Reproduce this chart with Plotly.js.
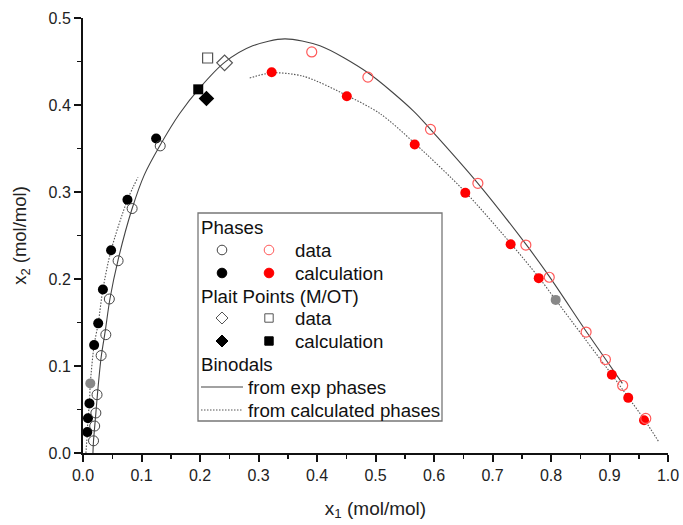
<!DOCTYPE html>
<html>
<head>
<meta charset="utf-8">
<script src="https://cdn.plot.ly/plotly-3.0.1.min.js"></script>
<style>html,body{margin:0;padding:0;background:#fff}#chart{width:683px;height:525px}</style>
</head>
<body>
<div id="chart"></div>
<script>
// ---- data ----
var expBinodalX = [0.017, 0.018, 0.022, 0.025, 0.031, 0.038, 0.046, 0.060, 0.084, 0.105, 0.132, 0.165, 0.200, 0.242, 0.290, 0.345, 0.405, 0.487, 0.565, 0.594, 0.675, 0.757, 0.797, 0.860, 0.893, 0.922];
var expBinodalY = [0.000, 0.014, 0.046, 0.070, 0.110, 0.140, 0.177, 0.222, 0.281, 0.320, 0.354, 0.390, 0.420, 0.449, 0.468, 0.476, 0.468, 0.437, 0.393, 0.372, 0.310, 0.240, 0.203, 0.140, 0.108, 0.080];

var calcBinodalLeftX = [0.005, 0.0074, 0.0085, 0.011, 0.0125, 0.019, 0.026, 0.034, 0.048, 0.076, 0.094];
var calcBinodalLeftY = [0.000, 0.024, 0.040, 0.057, 0.080, 0.124, 0.149, 0.188, 0.233, 0.291, 0.317];
var calcBinodalRightX = [0.285, 0.3225, 0.377, 0.451, 0.508, 0.567, 0.6535, 0.731, 0.779, 0.808, 0.856, 0.904, 0.932, 0.960, 0.985];
var calcBinodalRightY = [0.431, 0.437, 0.433, 0.411, 0.390, 0.356, 0.300, 0.241, 0.202, 0.176, 0.133, 0.090, 0.064, 0.038, 0.012];

var blackOpenX = [0.018, 0.020, 0.022, 0.024, 0.031, 0.039, 0.045, 0.060, 0.084, 0.132];
var blackOpenY = [0.014, 0.031, 0.046, 0.067, 0.112, 0.136, 0.177, 0.221, 0.281, 0.353];
var blackFilledX = [0.0074, 0.0085, 0.011, 0.019, 0.026, 0.034, 0.048, 0.076, 0.125];
var blackFilledY = [0.024, 0.040, 0.057, 0.124, 0.149, 0.188, 0.233, 0.291, 0.3615];
var grayX = [0.0125, 0.808];
var grayY = [0.080, 0.176];
var redOpenX = [0.391, 0.487, 0.594, 0.675, 0.757, 0.797, 0.860, 0.893, 0.9225, 0.962];
var redOpenY = [0.461, 0.432, 0.372, 0.310, 0.239, 0.202, 0.139, 0.1075, 0.0776, 0.0397];
var redFilledX = [0.3225, 0.451, 0.567, 0.6535, 0.731, 0.779, 0.904, 0.932, 0.959];
var redFilledY = [0.4377, 0.410, 0.3546, 0.299, 0.240, 0.201, 0.0899, 0.0634, 0.0377];

var plaitDataDiamondX = [0.242], plaitDataDiamondY = [0.4485];
var plaitDataSquareX = [0.213], plaitDataSquareY = [0.454];
var plaitCalcDiamondX = [0.211], plaitCalcDiamondY = [0.4075];
var plaitCalcSquareX = [0.197], plaitCalcSquareY = [0.418];

var tickVals = [0, 0.1, 0.2, 0.3, 0.4, 0.5, 0.6, 0.7, 0.8, 0.9, 1.0];
var tickText = ['0.0','0.1','0.2','0.3','0.4','0.5','0.6','0.7','0.8','0.9','1.0'];
var yTickVals = [0, 0.1, 0.2, 0.3, 0.4, 0.5];
var yTickText = ['0.0','0.1','0.2','0.3','0.4','0.5'];

var legendLabels = ['Phases', 'data', 'calculation', 'Plait Points (M/OT)', 'data', 'calculation', 'Binodals', 'from exp phases', 'from calculated phases'];

// ---- traces ----
function pts(x, y, marker) {
  return {x: x, y: y, type: 'scatter', mode: 'markers', marker: marker,
          cliponaxis: false, showlegend: false, hoverinfo: 'skip'};
}
function crv(x, y, line) {
  return {x: x, y: y, type: 'scatter', mode: 'lines', line: line,
          cliponaxis: false, showlegend: false, hoverinfo: 'skip'};
}
var traces = [
  crv(expBinodalX, expBinodalY, {color: '#444', width: 1.1, shape: 'spline', smoothing: 0.8}),
  crv(calcBinodalLeftX, calcBinodalLeftY, {color: '#555', width: 1.1, dash: '1.5px,1.5px', shape: 'spline', smoothing: 0.8}),
  crv(calcBinodalRightX, calcBinodalRightY, {color: '#555', width: 1.1, dash: '1.5px,1.5px', shape: 'spline', smoothing: 0.8}),
  pts(blackFilledX, blackFilledY, {symbol: 'circle', size: 10, color: '#000'}),
  pts(blackOpenX, blackOpenY, {symbol: 'circle-open', size: 10, color: '#444', line: {width: 1}}),
  pts(grayX, grayY, {symbol: 'circle', size: 10, color: '#888'}),
  pts(redFilledX, redFilledY, {symbol: 'circle', size: 10, color: '#ff0000'}),
  pts(redOpenX, redOpenY, {symbol: 'circle-open', size: 10, color: '#ff5a5a', line: {width: 1.2}}),
  pts(plaitDataSquareX, plaitDataSquareY, {symbol: 'square-open', size: 10, color: '#555', line: {width: 1.2}}),
  pts(plaitDataDiamondX, plaitDataDiamondY, {symbol: 'diamond-open', size: 12, color: '#555', line: {width: 1.2}}),
  pts(plaitCalcSquareX, plaitCalcSquareY, {symbol: 'square', size: 10, color: '#000'}),
  pts(plaitCalcDiamondX, plaitCalcDiamondY, {symbol: 'diamond', size: 12, color: '#000'})
];

// ---- hand-built legend (box, glyphs, text) in paper coords ----
var L = 83, T = 18, W = 585, H = 435;
var FONT = 'Liberation Sans, Arial, sans-serif';
function px(p) { return (p - L) / W; }
function py(p) { return (T + H - p) / H; }
var shapes = [];
var annotations = [];
shapes.push({type: 'rect', xref: 'paper', yref: 'paper', x0: px(198), x1: px(442), y0: py(421), y1: py(213),
             line: {color: '#777', width: 1.3}, fillcolor: '#fff', layer: 'above'});
function circ(cx, cy, r, fill, stroke) {
  shapes.push({type: 'circle', xref: 'paper', yref: 'paper', xsizemode: 'pixel', ysizemode: 'pixel',
    xanchor: px(cx), yanchor: py(cy), x0: -r, x1: r, y0: -r, y1: r,
    fillcolor: fill, line: {color: stroke, width: 1}, layer: 'above'});
}
function sq(cx, cy, r, fill, stroke) {
  shapes.push({type: 'rect', xref: 'paper', yref: 'paper', xsizemode: 'pixel', ysizemode: 'pixel',
    xanchor: px(cx), yanchor: py(cy), x0: -r, x1: r, y0: -r, y1: r,
    fillcolor: fill, line: {color: stroke, width: 1}, layer: 'above'});
}
function dia(cx, cy, r, fill, stroke) {
  shapes.push({type: 'path', xref: 'paper', yref: 'paper', xsizemode: 'pixel', ysizemode: 'pixel',
    xanchor: px(cx), yanchor: py(cy), path: 'M0,' + r + ' L' + r + ',0 L0,-' + r + ' L-' + r + ',0 Z',
    fillcolor: fill, line: {color: stroke, width: 1}, layer: 'above'});
}
circ(222, 250, 4.8, 'rgba(0,0,0,0)', '#444');
circ(269, 250, 4.8, 'rgba(0,0,0,0)', '#ff5a5a');
circ(222, 273, 4.8, '#000', '#000');
circ(269, 273, 4.8, '#ff0000', '#ff0000');
dia(222, 318, 6, 'rgba(0,0,0,0)', '#555');
sq(269, 318, 4.2, 'rgba(0,0,0,0)', '#555');
dia(222, 341, 6, '#000', '#000');
sq(269, 341, 4.2, '#000', '#000');
shapes.push({type: 'line', xref: 'paper', yref: 'paper', x0: px(201), x1: px(243), y0: py(387), y1: py(387),
             line: {color: '#444', width: 1.1}, layer: 'above'});
shapes.push({type: 'line', xref: 'paper', yref: 'paper', x0: px(201), x1: px(243), y0: py(410), y1: py(410),
             line: {color: '#555', width: 1.1, dash: '1.5px,1.5px'}, layer: 'above'});
var legPos = [[199, 227], [293, 250], [293, 273], [199, 296], [293, 318], [293, 341], [199, 364], [246, 387], [246, 410]];
for (var i = 0; i < legendLabels.length; i++) {
  annotations.push({xref: 'paper', yref: 'paper', x: px(legPos[i][0]), y: py(legPos[i][1]),
    xanchor: 'left', yanchor: 'middle', text: legendLabels[i], showarrow: false,
    font: {family: FONT, size: 18.7, color: '#111'}});
}

var axisCommon = {
  showline: true, linecolor: '#111', linewidth: 2, mirror: false,
  ticks: 'outside', ticklen: 7, tickwidth: 2, tickcolor: '#111',
  showgrid: false, zeroline: false,
  tickfont: {family: FONT, size: 16, color: '#222'}
};
var layout = {
  width: 683, height: 525,
  margin: {l: L, r: 683 - L - W, t: T, b: 525 - T - H},
  paper_bgcolor: '#fff', plot_bgcolor: '#fff',
  showlegend: false,
  xaxis: Object.assign({}, axisCommon, {
    range: [0, 1], tickvals: tickVals, ticktext: tickText,
    minor: {tickvals: [0.05,0.15,0.25,0.35,0.45,0.55,0.65,0.75,0.85,0.95], ticks: 'outside', ticklen: 4, tickwidth: 1.5, tickcolor: '#111'},
    title: {text: 'x<sub>1</sub> (mol/mol)', standoff: 18, font: {family: FONT, size: 19, color: '#222'}}
  }),
  yaxis: Object.assign({}, axisCommon, {
    range: [0, 0.5], tickvals: yTickVals, ticktext: yTickText,
    minor: {tickvals: [0.05,0.15,0.25,0.35,0.45], ticks: 'outside', ticklen: 4, tickwidth: 1.5, tickcolor: '#111'},
    title: {text: 'x<sub>2</sub> (mol/mol)', standoff: 17, font: {family: FONT, size: 18.5, color: '#222'}}
  }),
  shapes: shapes,
  annotations: annotations
};
Plotly.newPlot('chart', traces, layout, {staticPlot: true, displayModeBar: false});
</script>
</body>
</html>
